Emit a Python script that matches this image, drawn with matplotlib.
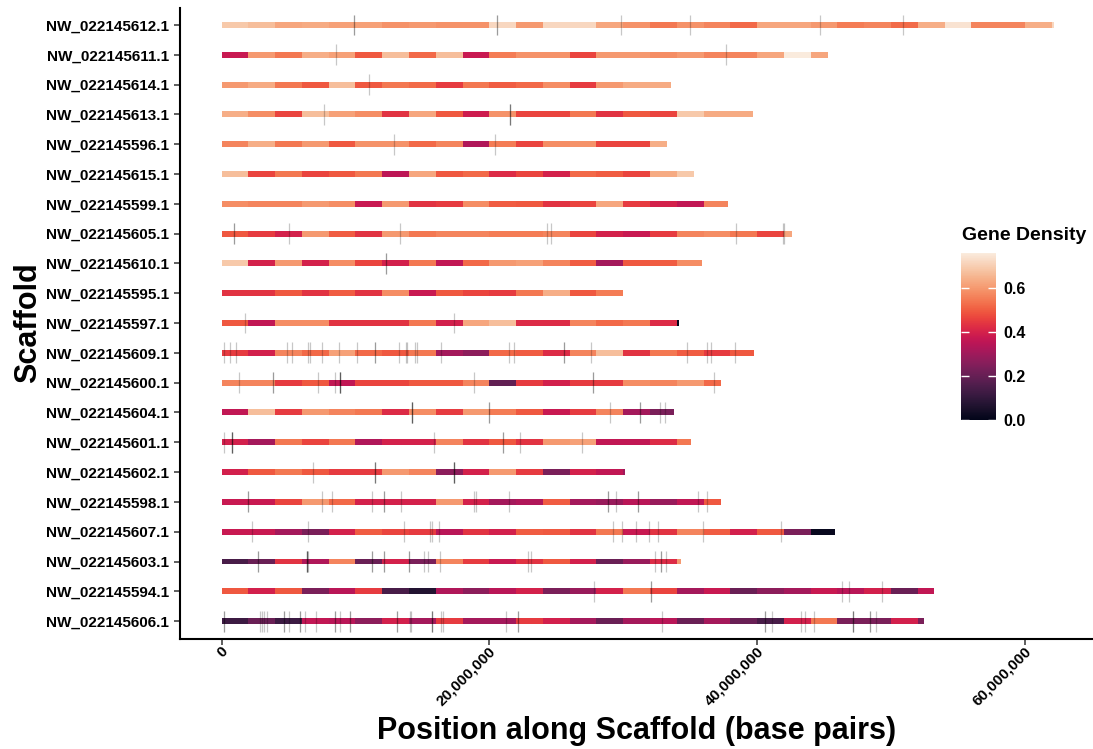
import numpy as np
import matplotlib
matplotlib.use("Agg")
import matplotlib.pyplot as plt
import matplotlib.transforms as mtransforms
import seaborn as sns  # registers the "rocket" colormap
from matplotlib.colors import Normalize
from matplotlib.cm import ScalarMappable

plt.rcParams['font.family'] = ['Liberation Sans', 'DejaVu Sans']
plt.rcParams['font.weight'] = 'bold'

# Scaffolds, top to bottom
scaffolds = [
    "NW_022145612.1", "NW_022145611.1", "NW_022145614.1", "NW_022145613.1",
    "NW_022145596.1", "NW_022145615.1", "NW_022145599.1", "NW_022145605.1",
    "NW_022145610.1", "NW_022145595.1", "NW_022145597.1", "NW_022145609.1",
    "NW_022145600.1", "NW_022145604.1", "NW_022145601.1", "NW_022145602.1",
    "NW_022145598.1", "NW_022145607.1", "NW_022145603.1", "NW_022145594.1",
    "NW_022145606.1",
]

# Scaffold lengths (Mb)
scaffold_length_mb = [62.2, 45.3, 33.6, 39.7, 33.3, 35.3, 37.8, 42.6, 35.9, 30.0,
                      34.2, 39.8, 37.3, 33.8, 35.1, 30.1, 37.3, 45.8, 34.3, 53.2, 52.5]

# Window size (Mb)
bin_mb = 2.0

# Gene density per 2 Mb window
density_bins = [
    [.69, .67, .625, .635, .615, .615, .59, .60, .59, .59, .72, .60, .72, .72, .625, .59,
     .545, .59, .565, .52, .625, .625, .60, .55, .565, .525, .64, .745, .565, .565, .64, .72],
    [.375, .60, .545, .64, .615, .495, .67, .52, .67, .375, .55, .59, .59, .465, .60, .60,
     .58, .60, .565, .565, .625, .76, .625],
    [.60, .635, .545, .495, .67, .495, .545, .525, .45, .545, .50, .52, .58, .45, .60, .635, .635],
    [.64, .58, .465, .67, .615, .58, .434, .625, .495, .385, .59, .465, .465, .545, .434, .495,
     .465, .69, .635, .635],
    [.565, .64, .545, .60, .495, .59, .59, .52, .565, .33, .55, .465, .58, .59, .465, .465, .64],
    [.67, .465, .545, .465, .495, .545, .355, .625, .495, .52, .42, .465, .40, .52, .50, .465, .635, .69],
    [.58, .565, .565, .60, .58, .375, .60, .434, .45, .58, .50, .495, .434, .465, .625, .45, .40, .36, .565],
    [.495, .45, .40, .60, .50, .434, .60, .545, .565, .565, .55, .55, .565, .465, .40, .375,
     .45, .565, .58, .545, .465, .625],
    [.69, .40, .60, .40, .58, .465, .395, .545, .36, .52, .60, .615, .565, .50, .31, .495, .50, .58],
    [.434, .434, .495, .434, .50, .434, .58, .375, .495, .465, .45, .545, .64, .495, .55],
    [.495, .36, .58, .58, .434, .434, .434, .545, .395, .625, .67, .42, .42, .565, .52, .545, .42, .0],
    [.45, .395, .565, .52, .615, .52, .495, .545, .31, .27, .52, .50, .42, .565, .67, .434,
     .545, .50, .45, .495],
    [.565, .565, .45, .495, .36, .465, .465, .495, .495, .565, .19, .45, .395, .45, .45, .58, .565, .60, .52],
    [.36, .67, .45, .60, .565, .545, .42, .58, .45, .60, .55, .495, .375, .45, .565, .31, .235],
    [.395, .31, .545, .465, .545, .33, .40, .40, .565, .434, .495, .434, .60, .615, .36, .36, .42, .545],
    [.395, .495, .545, .495, .45, .45, .60, .565, .27, .40, .60, .45, .235, .40, .36, .30],
    [.375, .375, .465, .60, .52, .40, .40, .40, .60, .40, .31, .33, .50, .31, .29, .345, .29, .36, .495],
    [.375, .375, .31, .235, .40, .50, .465, .45, .345, .434, .395, .50, .495, .434, .545, .375,
     .434, .565, .50, .395, .495, .235, .015],
    [.145, .205, .434, .33, .565, .205, .40, .235, .565, .45, .375, .434, .495, .395, .205, .29, .42, .60],
    [.495, .395, .495, .235, .345, .45, .145, .07, .33, .27, .345, .40, .235, .29, .40, .545,
     .465, .31, .375, .205, .27, .31, .375, .345, .395, .205, .36],
    [.12, .205, .12, .36, .345, .27, .395, .31, .45, .31, .31, .45, .395, .31, .205, .31,
     .345, .205, .31, .205, .145, .395, .545, .235, .235, .395, .235],
]

# Marker positions along each scaffold (Mb); repeated entries overlap
marker_mb = [
    [9.92, 9.92, 20.56, 20.56, 29.86, 35.0, 44.7, 50.9],
    [8.55, 37.7],
    [11.0],
    [7.65, 21.56, 21.56, 21.56],
    [12.9, 20.4],
    [],
    [],
    [0.92, 0.92, 5.03, 13.3, 24.3, 24.6, 38.45, 41.9, 42.0],
    [12.3, 12.3],
    [],
    [1.74, 17.37],
    [0.17, 0.62, 1.07, 4.86, 5.26, 6.46, 6.6, 7.5, 8.77, 10.12, 11.46, 11.46, 13.26, 13.81,
     13.88, 14.46, 14.58, 16.4, 21.48, 21.86, 25.6, 25.6, 27.6, 34.77, 36.24, 36.59, 38.38],
    [1.32, 3.84, 3.84, 7.2, 8.5, 8.85, 8.85, 8.85, 8.85, 18.87, 27.76, 27.76, 36.76],
    [14.25, 14.25, 14.25, 14.25, 19.96, 19.96, 29.03, 31.27, 31.27, 32.72, 33.15],
    [0.17, 0.77, 0.77, 0.77, 0.77, 15.88, 21.0, 21.0, 22.28, 26.94],
    [6.83, 11.44, 11.44, 11.44, 17.35, 17.35, 17.35, 17.35],
    [1.97, 1.97, 7.5, 8.25, 11.21, 12.16, 12.16, 13.43, 18.87, 18.99, 21.48, 28.83, 28.83,
     29.48, 31.13, 31.13, 35.61, 36.29],
    [2.27, 6.46, 13.63, 15.6, 15.73, 16.25, 29.26, 29.93, 30.98, 31.93, 32.62, 35.99, 41.82],
    [2.72, 2.72, 6.35, 6.4, 6.4, 6.4, 6.45, 11.24, 11.24, 12.14, 12.14, 13.98, 13.98, 15.15,
     15.43, 16.33, 22.9, 23.08, 32.4, 32.85, 32.85, 33.2],
    [27.84, 32.1, 32.1, 46.38, 46.83, 49.3],
    [0.17, 0.17, 2.89, 3.02, 3.17, 3.41, 4.66, 4.66, 5.01, 5.88, 5.88, 6.21, 7.08, 8.45, 8.45,
     8.87, 9.62, 9.62, 13.11, 13.11, 14.08, 14.18, 15.75, 15.75, 15.75, 16.42, 16.55, 21.28,
     22.13, 22.13, 32.92, 40.62, 40.62, 41.12, 43.31, 43.61, 44.28, 47.15, 47.15, 47.15,
     48.47, 48.47, 48.92],
]

x_ticks = [0, 20_000_000, 40_000_000, 60_000_000]
x_ticklabels = ["0", "20,000,000", "40,000,000", "60,000,000"]
cbar_ticks = [0.0, 0.2, 0.4, 0.6]

W, H = 1093, 749
fig = plt.figure(figsize=(W / 100, H / 100), dpi=100)
ax = fig.add_axes([180 / W, 1 - 639 / H, (W - 180) / W, (639 - 8) / H])

cmap = matplotlib.colormaps['rocket']
all_vals = np.concatenate([np.asarray(v, float) for v in density_bins])
norm = Normalize(vmin=all_vals.min(), vmax=all_vals.max())

bar_h = 0.2
tick_h = 0.35
for k, (length, vals, marks) in enumerate(zip(scaffold_length_mb, density_bins, marker_mb)):
    vals = np.asarray(vals, float)
    starts = np.arange(len(vals)) * bin_mb
    ends = np.minimum(starts + bin_mb, length)
    ax.barh(np.full(len(vals), k), (ends - starts) * 1e6, left=starts * 1e6,
            height=bar_h, color=cmap(norm(vals)), edgecolor='none', linewidth=0)
    if marks:
        m = np.asarray(marks) * 1e6
        ax.vlines(m, k - tick_h, k + tick_h, color='black', alpha=0.22, linewidth=0.9)

ax.set_xlim(-3.10e6, 65.09e6)
ax.set_ylim(20.6, -0.57)
ax.set_yticks(range(len(scaffolds)))
ax.set_yticklabels(scaffolds, fontsize=11, fontweight='bold')
ax.set_xticks(x_ticks)
ax.set_xticklabels(x_ticklabels, fontsize=11, fontweight='bold', rotation=45,
                   ha='right', va='center', rotation_mode='anchor')
ax.tick_params(axis='both', length=4, width=1.1, color='#333333', pad=4)
ax.tick_params(axis='x', pad=3)
shift = mtransforms.ScaledTranslation(4 / 100, 0, fig.dpi_scale_trans)
for lab in ax.get_xticklabels():
    lab.set_transform(lab.get_transform() + shift)
for side in ('top', 'right'):
    ax.spines[side].set_visible(False)
for side in ('left', 'bottom'):
    ax.spines[side].set_linewidth(1.5)
    ax.spines[side].set_color('black')

fig.text(637 / W, 1 - 731 / H, "Position along Scaffold (base pairs)", fontsize=22,
         fontweight='bold', ha='center', va='center')
fig.text(28 / W, 1 - 323 / H, "Scaffold", fontsize=22, fontweight='bold',
         ha='center', va='center', rotation=90)

# Colour legend
cax = fig.add_axes([961 / W, 1 - 420 / H, 35 / W, 167 / H])
cb = fig.colorbar(ScalarMappable(norm=norm, cmap=cmap), cax=cax)
cb.outline.set_visible(False)
cb.set_ticks(cbar_ticks)
cb.set_ticklabels([f"{t:.1f}" for t in cbar_ticks])
cax.tick_params(axis='y', direction='in', color='white', length=6, width=1,
                left=True, right=True, labelleft=False, labelright=True,
                labelsize=11.5, pad=5)
for lab in cax.get_yticklabels():
    lab.set_fontweight('bold')
fig.text(962 / W, 1 - 236 / H, "Gene Density", fontsize=14, fontweight='bold',
         ha='left', va='center')

fig.savefig("out.png", dpi=100)
